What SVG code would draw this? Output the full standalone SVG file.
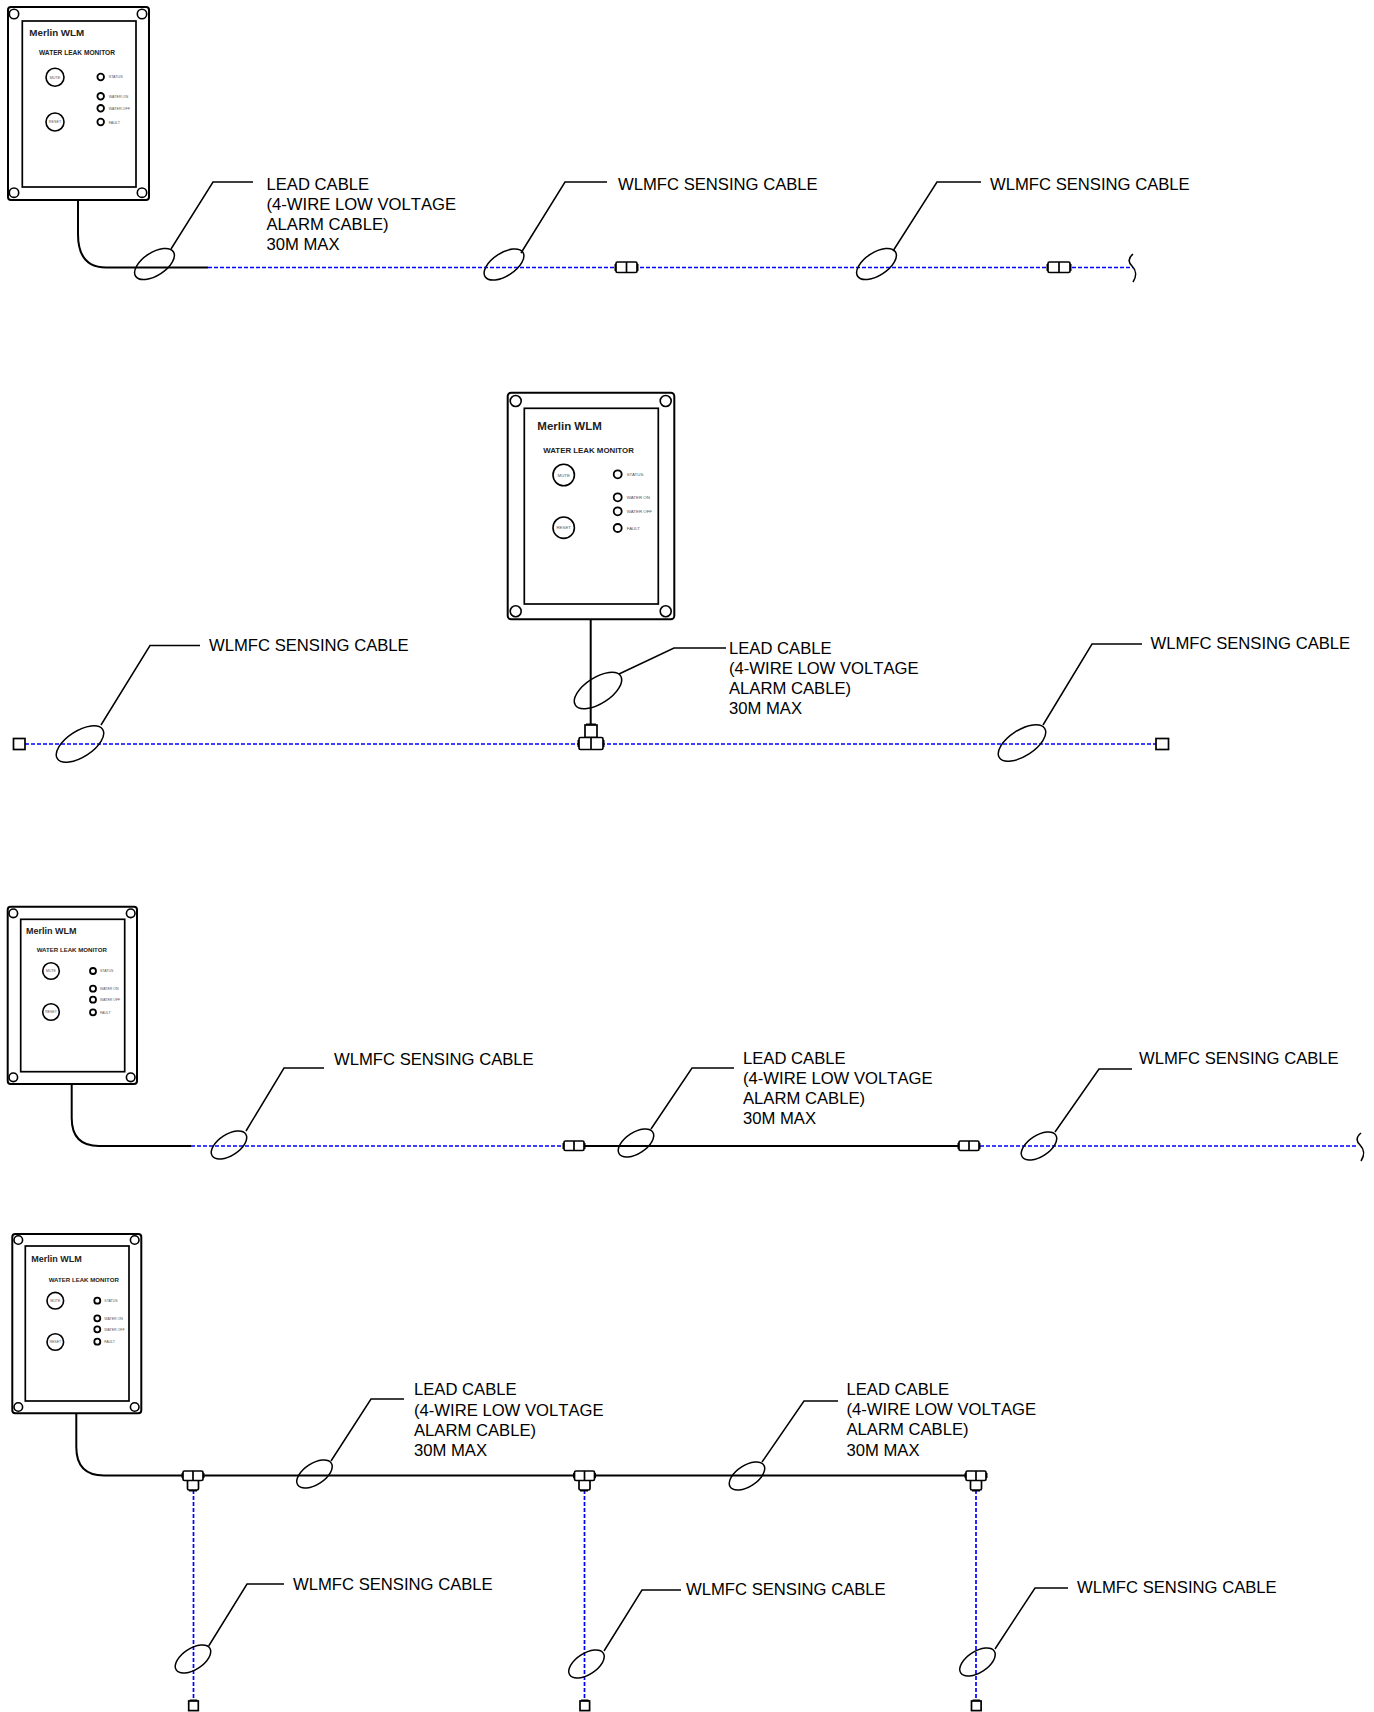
<svg xmlns="http://www.w3.org/2000/svg" width="1374" height="1712" viewBox="0 0 1374 1712">
<style>
text{font-family:"Liberation Sans",Arial,sans-serif;fill:#000}
.l{font-size:16.65px;font-kerning:none}
.s,.w,.e,.k,.lead,.led{fill:none;stroke:#000;stroke-width:1.5}
.box{fill:#fff;stroke:#000;stroke-width:2}
.inner{fill:#fff;stroke:#000;stroke-width:1.7}
.s{stroke-width:1.6}
.h{font-weight:bold;fill:#222}
.h1{font-size:9.8px}.h2{font-size:11.5px}.h3{font-size:9px}
.m1{font-size:6.6px}.m2{font-size:7.87px}.m3{font-size:6.1px}
.t{fill:#555}
.t1{font-size:3.7px}.t2{font-size:4.4px}.t3{font-size:3.5px}
.b{fill:#555;text-anchor:middle}
.k{stroke-width:2}
.c{fill:#fff;stroke:#000;stroke-width:1.7}
.cap{fill:none;stroke:#000;stroke-width:3}
.led{stroke-width:1.8}
.bl{fill:none;stroke:#0000ff;stroke-width:1.7;stroke-dasharray:4 2}
</style>
<g id="connectors">
<path class="bl" d="M208 267.500H1133"/>
<path class="k" d="M78 200V234Q78 267.500 106 267.500H208"/>
<path class="s" d="M1133 254C1127 259 1129 263 1132 266C1136 270 1137 276 1133 282"/>
<path class="bl" d="M25 744H1156"/>
<path class="k" d="M590.700 619V725"/>
<path class="k" d="M71.700 1084V1118Q71.700 1146 99 1146H191"/>
<path class="bl" d="M191 1146H563M980 1146H1358"/>
<path class="k" d="M585 1146H958"/>
<path class="s" d="M1361 1133C1355 1138 1357 1142 1360 1145C1364 1149 1365 1155 1361 1161"/>
<path class="k" d="M76.300 1414V1447Q76.300 1475.500 104 1475.500H975"/>
<path class="bl" d="M193.500 1490V1701M584.500 1490V1701M976 1490V1701"/>
<path class="lead" d="M171 249L213 182H253"/>
<path class="lead" d="M521 253L565 182H607"/>
<path class="lead" d="M893 251L937 182H981"/>
<path class="lead" d="M101 725L150 645.500H200"/>
<path class="lead" d="M619 674L674 648H726"/>
<path class="lead" d="M1043 725L1092 644H1142"/>
<path class="lead" d="M246 1131L284 1068H324"/>
<path class="lead" d="M651 1129L692 1068H734"/>
<path class="lead" d="M1055 1132L1099 1069H1132"/>
<path class="lead" d="M331 1461L371 1399H404"/>
<path class="lead" d="M762 1462L804 1401H838"/>
<path class="lead" d="M208.700 1646L247 1584H284"/>
<path class="lead" d="M604 1651L642 1590H681"/>
<path class="lead" d="M995 1649L1035 1588H1068"/>
</g>
<g id="ellipses">
<ellipse class="e" cx="154.500" cy="264" rx="22.500" ry="11.500" transform="rotate(-33 154.500 264)"/>
<ellipse class="e" cx="504" cy="264.500" rx="22.500" ry="11.500" transform="rotate(-33 504 264.500)"/>
<ellipse class="e" cx="876.500" cy="264" rx="22.500" ry="11.500" transform="rotate(-33 876.500 264)"/>
<ellipse class="e" cx="80" cy="744" rx="27" ry="13" transform="rotate(-33 80 744)"/>
<ellipse class="e" cx="598" cy="690.500" rx="27" ry="13" transform="rotate(-33 598 690.500)"/>
<ellipse class="e" cx="1022" cy="743" rx="27" ry="13" transform="rotate(-33 1022 743)"/>
<ellipse class="e" cx="229" cy="1145" rx="20" ry="10.500" transform="rotate(-33 229 1145)"/>
<ellipse class="e" cx="636" cy="1143" rx="20" ry="10.500" transform="rotate(-33 636 1143)"/>
<ellipse class="e" cx="1039" cy="1146" rx="20" ry="10.500" transform="rotate(-33 1039 1146)"/>
<ellipse class="e" cx="314.500" cy="1474" rx="20" ry="10.500" transform="rotate(-33 314.500 1474)"/>
<ellipse class="e" cx="747" cy="1476" rx="20" ry="10.500" transform="rotate(-33 747 1476)"/>
<ellipse class="e" cx="193" cy="1659" rx="20" ry="10.500" transform="rotate(-33 193 1659)"/>
<ellipse class="e" cx="586.500" cy="1664" rx="20" ry="10.500" transform="rotate(-33 586.500 1664)"/>
<ellipse class="e" cx="977.500" cy="1662" rx="20" ry="10.500" transform="rotate(-33 977.500 1662)"/>
</g>
<g id="fittings">
<g id="coupler1"><path class="cap" d="M616 264V271M637 264V271"/><rect class="c" x="616" y="262" width="21" height="10.500" rx="1.500"/><path class="c" d="M626.500 262V272.500"/></g>
<g id="coupler2"><path class="cap" d="M1048 264V271M1070 264V271"/><rect class="c" x="1048" y="262" width="22" height="10.500" rx="1.500"/><path class="c" d="M1059 262V272.500"/></g>
<g id="coupler3"><path class="cap" d="M564 1143V1149M584 1143V1149"/><rect class="c" x="564" y="1141" width="20" height="9.500" rx="1.500"/><path class="c" d="M574 1141V1150.500"/></g>
<g id="coupler4"><path class="cap" d="M959 1143V1149M979 1143V1149"/><rect class="c" x="959" y="1141" width="20" height="9.500" rx="1.500"/><path class="c" d="M969 1141V1150.500"/></g>
<g id="tee1"><path class="cap" d="M586 725H596M579 740V747M603 740V747"/><rect class="c" x="585" y="725" width="12" height="12.500"/><rect class="c" x="579" y="737.500" width="24" height="12" rx="1.500"/><path class="c" d="M591 737.500V749.500"/></g>
<g id="tee2"><path class="cap" d="M189 1490H197M183 1473V1478M203 1473V1478"/><rect class="c" x="187.500" y="1480" width="11" height="10" rx="1.500"/><rect class="c" x="183" y="1471" width="20" height="9.500" rx="1.500"/><path class="c" d="M193 1471V1480.500"/></g>
<g id="tee3"><path class="cap" d="M580 1490H588M574.500 1473V1478M594.500 1473V1478"/><rect class="c" x="579" y="1480" width="11" height="10" rx="1.500"/><rect class="c" x="574.500" y="1471" width="20" height="9.500" rx="1.500"/><path class="c" d="M584.500 1471V1480.500"/></g>
<g id="tee4"><path class="cap" d="M972 1490H980M966 1473V1478M986 1473V1478"/><rect class="c" x="970.500" y="1480" width="11" height="10" rx="1.500"/><rect class="c" x="966" y="1471" width="20" height="9.500" rx="1.500"/><path class="c" d="M976 1471V1480.500"/></g>
<path class="cap" d="M14.500 738.500V749.500M189.700 1701H197.300M581 1701H588.600M972.500 1701H980.100M1167.500 738.500V749.500"/>
<rect id="end1" class="c" x="13.500" y="738.500" width="11.500" height="11"/>
<rect id="end2" class="c" x="1156" y="738.500" width="12.500" height="11"/>
<rect id="end3" class="c" x="188.700" y="1701" width="9.600" height="9.600"/>
<rect id="end4" class="c" x="580" y="1701" width="9.600" height="9.600"/>
<rect id="end5" class="c" x="971.500" y="1701" width="9.600" height="9.600"/>
</g>
<g id="monitor1">
<rect class="box" x="8" y="7" width="141" height="193" rx="3"/><rect class="inner" x="22.300" y="21" width="113.700" height="166"/>
<circle class="s" cx="14" cy="14" r="4.700"/><circle class="s" cx="142" cy="14" r="4.700"/><circle class="s" cx="14" cy="192.700" r="4.700"/><circle class="s" cx="142" cy="192.700" r="4.700"/>
<text class="h h1" x="29.300" y="36">Merlin WLM</text><text class="h m1" x="39" y="54.700">WATER LEAK MONITOR</text>
<circle class="s" cx="55" cy="77.300" r="9"/><text class="b t1" x="55" y="78.600">MUTE</text><circle class="s" cx="55" cy="122" r="9"/><text class="b t1" x="55" y="123.300">RESET</text>
<circle class="led" cx="100.700" cy="77" r="3.300"/><circle class="led" cx="100.700" cy="96.300" r="3.300"/><circle class="led" cx="100.700" cy="108.300" r="3.300"/><circle class="led" cx="100.700" cy="122" r="3.300"/>
<text class="t t1" x="108.700" y="78">STATUS</text><text class="t t1" x="108.700" y="97.800">WATER ON</text><text class="t t1" x="108.700" y="109.800">WATER OFF</text><text class="t t1" x="108.700" y="123.800">FAULT</text>
</g>
<g id="monitor2">
<rect class="box" x="507.700" y="392.700" width="166.600" height="226.600" rx="3.500"/><rect class="inner" x="524.300" y="408.300" width="134" height="195.700"/>
<circle class="s" cx="515.700" cy="401" r="5.500"/><circle class="s" cx="665.700" cy="401" r="5.500"/><circle class="s" cx="515.700" cy="611.300" r="5.500"/><circle class="s" cx="665.700" cy="611.300" r="5.500"/>
<text class="h h2" x="537.300" y="430">Merlin WLM</text><text class="h m2" x="543.300" y="452.700">WATER LEAK MONITOR</text>
<circle class="s" cx="563.700" cy="475" r="10.700"/><text class="b t2" x="563.700" y="476.600">MUTE</text><circle class="s" cx="563.700" cy="527.700" r="10.700"/><text class="b t2" x="563.700" y="529.300">RESET</text>
<circle class="led" cx="617.700" cy="474.300" r="4"/><circle class="led" cx="617.700" cy="497.300" r="4"/><circle class="led" cx="617.700" cy="511.300" r="4"/><circle class="led" cx="617.700" cy="528" r="4"/>
<text class="t t2" x="626.700" y="475.500">STATUS</text><text class="t t2" x="626.700" y="498.800">WATER ON</text><text class="t t2" x="626.700" y="512.800">WATER OFF</text><text class="t t2" x="626.700" y="529.500">FAULT</text>
</g>
<g id="monitor3">
<rect class="box" x="7.700" y="906.700" width="129.300" height="177.300" rx="3"/><rect class="inner" x="20.700" y="919.300" width="104" height="152.400"/>
<circle class="s" cx="13.300" cy="913.300" r="4.300"/><circle class="s" cx="130.700" cy="913.300" r="4.300"/><circle class="s" cx="13.300" cy="1077.300" r="4.300"/><circle class="s" cx="130.700" cy="1077.300" r="4.300"/>
<text class="h h3" x="26" y="933.700">Merlin WLM</text><text class="h m3" x="36.700" y="952">WATER LEAK MONITOR</text>
<circle class="s" cx="51" cy="971" r="8.300"/><text class="b t3" x="51" y="972.300">MUTE</text><circle class="s" cx="51" cy="1012" r="8.300"/><text class="b t3" x="51" y="1013.300">RESET</text>
<circle class="led" cx="93" cy="971" r="3"/><circle class="led" cx="93" cy="988.700" r="3"/><circle class="led" cx="93" cy="999.700" r="3"/><circle class="led" cx="93" cy="1012.300" r="3"/>
<text class="t t3" x="100" y="971.700">STATUS</text><text class="t t3" x="100" y="990">WATER ON</text><text class="t t3" x="100" y="1001">WATER OFF</text><text class="t t3" x="100" y="1013.500">FAULT</text>
</g>
<g id="monitor4">
<rect class="box" x="12.300" y="1234" width="129" height="179.300" rx="3"/><rect class="inner" x="25.300" y="1246" width="103.700" height="155"/>
<circle class="s" cx="18.300" cy="1240" r="4.300"/><circle class="s" cx="134.700" cy="1240" r="4.300"/><circle class="s" cx="18.300" cy="1407" r="4.300"/><circle class="s" cx="134.700" cy="1407" r="4.300"/>
<text class="h h3" x="31.300" y="1261.700">Merlin WLM</text><text class="h m3" x="48.700" y="1282">WATER LEAK MONITOR</text>
<circle class="s" cx="55.300" cy="1300.700" r="8.300"/><text class="b t3" x="55.300" y="1302">MUTE</text><circle class="s" cx="55.300" cy="1342" r="8.300"/><text class="b t3" x="55.300" y="1343.300">RESET</text>
<circle class="led" cx="97.300" cy="1300.700" r="3"/><circle class="led" cx="97.300" cy="1318.300" r="3"/><circle class="led" cx="97.300" cy="1329.300" r="3"/><circle class="led" cx="97.300" cy="1341.700" r="3"/>
<text class="t t3" x="104.300" y="1302">STATUS</text><text class="t t3" x="104.300" y="1319.500">WATER ON</text><text class="t t3" x="104.300" y="1330.500">WATER OFF</text><text class="t t3" x="104.300" y="1343">FAULT</text>
</g>
<g id="labels">
<text class="l" x="266.500" y="190">LEAD CABLE</text><text class="l" x="266.500" y="210">(4-WIRE LOW VOLTAGE</text><text class="l" x="266.500" y="230">ALARM CABLE)</text><text class="l" x="266.500" y="250">30M MAX</text>
<text class="l" x="618" y="190">WLMFC SENSING CABLE</text>
<text class="l" x="990" y="190">WLMFC SENSING CABLE</text>
<text class="l" x="209" y="651">WLMFC SENSING CABLE</text>
<text class="l" x="729" y="654">LEAD CABLE</text><text class="l" x="729" y="674">(4-WIRE LOW VOLTAGE</text><text class="l" x="729" y="694">ALARM CABLE)</text><text class="l" x="729" y="714">30M MAX</text>
<text class="l" x="1150.500" y="649">WLMFC SENSING CABLE</text>
<text class="l" x="334" y="1065">WLMFC SENSING CABLE</text>
<text class="l" x="743" y="1064">LEAD CABLE</text><text class="l" x="743" y="1084">(4-WIRE LOW VOLTAGE</text><text class="l" x="743" y="1104">ALARM CABLE)</text><text class="l" x="743" y="1124">30M MAX</text>
<text class="l" x="1139" y="1064">WLMFC SENSING CABLE</text>
<text class="l" x="414" y="1395">LEAD CABLE</text><text class="l" x="414" y="1416">(4-WIRE LOW VOLTAGE</text><text class="l" x="414" y="1436">ALARM CABLE)</text><text class="l" x="414" y="1456">30M MAX</text>
<text class="l" x="846.500" y="1395">LEAD CABLE</text><text class="l" x="846.500" y="1415">(4-WIRE LOW VOLTAGE</text><text class="l" x="846.500" y="1435">ALARM CABLE)</text><text class="l" x="846.500" y="1456">30M MAX</text>
<text class="l" x="293" y="1590">WLMFC SENSING CABLE</text>
<text class="l" x="686" y="1595">WLMFC SENSING CABLE</text>
<text class="l" x="1077" y="1593">WLMFC SENSING CABLE</text>
</g>
</svg>
